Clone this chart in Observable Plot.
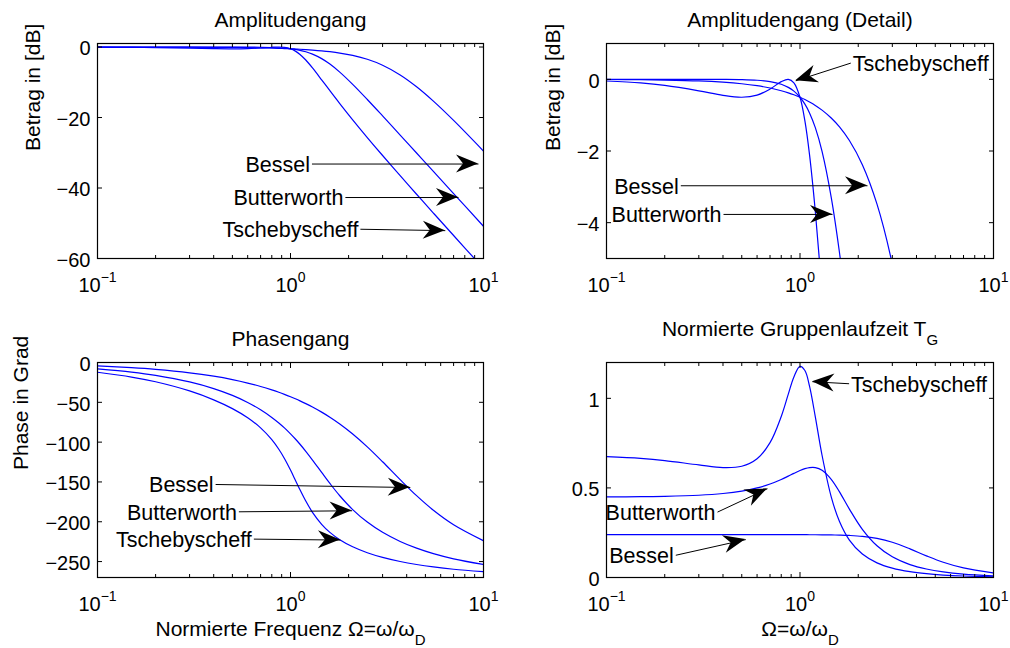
<!DOCTYPE html>
<html>
<head>
<meta charset="utf-8">
<script src="https://cdn.jsdelivr.net/npm/d3@7"></script>
<script src="https://cdn.jsdelivr.net/npm/@observablehq/plot@0.6"></script>
<style>
  html, body { margin: 0; padding: 0; background: #fff; }
  #fig { position: relative; width: 1010px; height: 648px; overflow: hidden; background: #fff; }
  #fig svg { position: absolute; left: 0; top: 0; }
</style>
</head>
<body>
<div id="fig"></div>
<script>
// ---------- data ----------
const omega = [0.1, 0.15, 0.2, 0.3, 0.4, 0.5, 0.6, 0.7, 0.8, 0.87, 0.93, 1, 1.06, 1.12, 1.2, 1.3, 1.45, 1.6, 1.8, 2.1, 2.5, 3, 3.7, 4.5, 5.5, 7, 10];

const filterNames = ["Bessel", "Butterworth", "Tschebyscheff"];

const besselDb = [-0.005, -0.011, -0.020, -0.044, -0.079, -0.123, -0.178, -0.242, -0.318, -0.376, -0.431, -0.500, -0.563, -0.631, -0.727, -0.859, -1.079, -1.327, -1.707, -2.381, -3.483, -5.161, -7.906, -11.261, -15.340, -20.811, -29.509];
const butterDb = [0, 0, 0, -0.0004, -0.002, -0.008, -0.025, -0.062, -0.137, -0.224, -0.330, -0.500, -0.693, -0.937, -1.349, -2.011, -3.292, -4.839, -7.118, -10.594, -14.884, -19.540, -24.970, -30.061, -35.287, -41.571, -50.864];
const chebDb = [-0.046, -0.100, -0.168, -0.320, -0.448, -0.500, -0.441, -0.272, -0.065, -0.000, -0.096, -0.500, -1.160, -2.103, -3.689, -5.928, -9.299, -12.399, -16.044, -20.657, -25.683, -30.781, -36.509, -41.771, -47.109, -53.478, -62.840];

const besselPhase = [-4.30, -6.45, -8.60, -12.91, -17.21, -21.51, -25.81, -30.11, -34.41, -37.42, -40.00, -43.01, -45.59, -48.17, -51.61, -55.90, -62.32, -68.72, -77.21, -89.76, -105.91, -124.63, -147.12, -167.24, -185.54, -203.75, -223.86];
const butterPhase = [-8.08, -12.13, -16.20, -24.40, -32.75, -41.30, -50.13, -59.32, -68.94, -75.95, -82.14, -89.57, -96.08, -102.67, -111.52, -122.46, -138.00, -151.88, -167.32, -184.69, -200.43, -213.29, -224.78, -233.18, -240.06, -246.59, -253.67];
const chebPhase = [-12.24, -18.26, -24.20, -35.72, -46.87, -57.93, -69.42, -82.08, -96.86, -108.97, -120.56, -135.12, -147.79, -159.84, -174.02, -188.18, -203.22, -213.35, -222.55, -231.46, -238.88, -244.75, -249.92, -253.68, -256.75, -259.65, -262.79];

const besselDelay = [0.2390, 0.2390, 0.2390, 0.2390, 0.2390, 0.2390, 0.2390, 0.2390, 0.2389, 0.2389, 0.2389, 0.2388, 0.2388, 0.2387, 0.2385, 0.2382, 0.2376, 0.2366, 0.2346, 0.2296, 0.2182, 0.1967, 0.1599, 0.1208, 0.0850, 0.0533, 0.0260];
const butterDelay = [0.4495, 0.4509, 0.4530, 0.4592, 0.4688, 0.4821, 0.4998, 0.5218, 0.5472, 0.5658, 0.5812, 0.5970, 0.6074, 0.6136, 0.6136, 0.5987, 0.5481, 0.4778, 0.3818, 0.2690, 0.1771, 0.1154, 0.0721, 0.0473, 0.0310, 0.0189, 0.0091];
const chebDelay = [0.6741, 0.6645, 0.6526, 0.6283, 0.6136, 0.6208, 0.6626, 0.7527, 0.8989, 1.0232, 1.1197, 1.1783, 1.1554, 1.0679, 0.8966, 0.6823, 0.4504, 0.3125, 0.2090, 0.1308, 0.0817, 0.0522, 0.0323, 0.0211, 0.0138, 0.0084, 0.0040];

// tick values
const xMajor = [0.1, 1, 10];
const xMinor = [0.2, 0.3, 0.4, 0.5, 0.6, 0.7, 0.8, 0.9, 2, 3, 4, 5, 6, 7, 8, 9];
const ampTicks = [0, -20, -40, -60];
const detailTicks = [0, -2, -4];
const phaseTicks = [0, -50, -100, -150, -200, -250];
const delayTicks = [0, 0.5, 1];

// annotation arrows (data coordinates; order = filterNames)
const ampTailX = [1.292, 1.925, 2.302], ampTailY = [-33.2, -42.7, -51.7];
const ampTipX  = [9.42, 7.42, 6.34],    ampTipY  = [-33.2, -42.7, -52.1];
const detTailX = [0.2421, 0.4024, 1.830], detTailY = [-2.97, -3.77, 0.453];
const detTipX  = [2.233, 1.4725, 0.9512], detTipY  = [-2.97, -3.77, -0.041];
const phTailX  = [0.4093, 0.5401, 0.6457], phTailY = [-153.2, -187.5, -221.8];
const phTipX   = [4.176, 2.085, 1.814],    phTipY  = [-157.0, -186.2, -223.0];
const dlTailX  = [0.2281, 0.3748, 1.7937], dlTailY = [0.1241, 0.3651, 1.0814];
const dlTipX   = [0.5246, 0.6792, 1.1603], dlTipY  = [0.2115, 0.4954, 1.0926];

// ---------- drawing ----------
const W = 1010, H = 648;
const FONT = "'Liberation Sans', Arial, Helvetica, sans-serif";
const BLUE = "#0000ff";
const TICK_FS = 20, LABEL_FS = 21, ANN_FS = 21.5;

function annotationMarks(tailX, tailY, tipX, tipY) {
  const idx = tailX.map((_, i) => i);
  const toRight = idx.filter(i => tipX[i] > tailX[i]);
  const toLeft = idx.filter(i => tipX[i] <= tailX[i]);
  const common = {x: i => tailX[i], y: i => tailY[i], text: i => filterNames[i],
                  fontSize: ANN_FS, lineAnchor: "middle", fill: "black", dy: 1};
  const heads = (index, scales) => {
    const g = d3.create("svg:g");
    for (const i of idx) {
      const x0 = scales.x(tailX[i]), y0 = scales.y(tailY[i]);
      const x1 = scales.x(tipX[i]), y1 = scales.y(tipY[i]);
      const len = Math.hypot(x1 - x0, y1 - y0);
      const ux = (x1 - x0) / len, uy = (y1 - y0) / len, nx = -uy, ny = ux;
      const L = 22, Wd = 9, N = 15;
      g.append("path")
        .attr("d", `M${x1},${y1}L${x1 - ux * L + nx * Wd},${y1 - uy * L + ny * Wd}L${x1 - ux * N},${y1 - uy * N}L${x1 - ux * L - nx * Wd},${y1 - uy * L - ny * Wd}Z`)
        .attr("fill", "black");
    }
    return g.node();
  };
  return [
    Plot.link(idx, {x1: i => tailX[i], y1: i => tailY[i], x2: i => tipX[i], y2: i => tipY[i], stroke: "black", strokeWidth: 1}),
    heads,
    Plot.text(toRight, {...common, textAnchor: "end", dx: -2}),
    Plot.text(toLeft, {...common, textAnchor: "start", dx: 2})
  ];
}

function panel(cfg) {
  const [l, r, t, b] = cfg.box;
  const marks = [];
  cfg.curves.forEach(ys => marks.push(Plot.line(omega, {x: omega, y: ys, stroke: BLUE, strokeWidth: 1.2, curve: "catmull-rom", clip: true})));
  // ticks (inside, mirrored)
  marks.push(Plot.axisX(xMinor, {anchor: "bottom", tickSize: -3, fill: "none"}));
  marks.push(Plot.axisX(xMinor, {anchor: "top", tickSize: -3, fill: "none"}));
  marks.push(Plot.axisX(xMajor, {anchor: "bottom", tickSize: -5, fill: "none"}));
  marks.push(Plot.axisX(xMajor, {anchor: "top", tickSize: -5, fill: "none"}));
  marks.push(Plot.axisY(cfg.yTicks, {anchor: "left", tickSize: -5, fill: "none"}));
  marks.push(Plot.axisY(cfg.yTicks, {anchor: "right", tickSize: -5, fill: "none"}));
  // tick labels
  marks.push(Plot.axisX(xMajor, {anchor: "bottom", tickSize: 0, tickPadding: 19, stroke: "none", fontSize: TICK_FS, label: null,
    tickFormat: d => `10^${Math.round(Math.log10(d))}`}));
  marks.push(Plot.axisY(cfg.yTicks, {anchor: "left", tickSize: 0, tickPadding: 7, stroke: "none", fontSize: TICK_FS, label: null, dy: 2,
    tickFormat: d => (d < 0 ? "\u2212" : "") + String(Math.abs(d))}));
  marks.push(Plot.frame({stroke: "black", strokeWidth: 1.2}));
  // texts
  marks.push(Plot.text([cfg.title], {text: d => d, frameAnchor: "top", lineAnchor: "bottom", dy: cfg.titleDy, fontSize: LABEL_FS, fill: "black"}));
  if (cfg.yLabel) marks.push(Plot.text([cfg.yLabel], {text: d => d, frameAnchor: "left", rotate: -90, lineAnchor: "middle", dx: cfg.yLabelDx, fontSize: LABEL_FS, fill: "black"}));
  if (cfg.xLabel) marks.push(Plot.text([cfg.xLabel], {text: d => d, frameAnchor: "bottom", lineAnchor: "bottom", dy: 58, fontSize: LABEL_FS, fill: "black"}));
  marks.push(...annotationMarks(...cfg.ann));
  return Plot.plot({
    width: W, height: H,
    marginLeft: l, marginRight: W - r, marginTop: t, marginBottom: H - b,
    x: {type: "log", domain: [0.1, 10]},
    y: {domain: cfg.yDomain},
    style: {background: "none", fontFamily: FONT, color: "black", overflow: "visible"},
    marks
  });
}

function scripts(svg) {
  d3.select(svg).selectAll("text").each(function () {
    if (this.querySelector("tspan")) return;
    const m = this.textContent.match(/^(.*?)([\^_])(.+)$/);
    if (!m) return;
    const sel = d3.select(this);
    sel.text(null);
    sel.append("tspan").text(m[1]);
    const sup = m[2] === "^";
    sel.append("tspan").attr("dy", sup ? -10 : 9).attr("font-size", sup ? 14 : 15).text(m[3].replace("-", "\u2212"));
  });
}

const fig = document.getElementById("fig");
const panels = [
  {box: [97, 483, 43, 258], yDomain: [-60, 1], yTicks: ampTicks, curves: [besselDb, butterDb, chebDb],
   title: "Amplitudengang", titleDy: -17, yLabel: "Betrag in [dB]", yLabelDx: -64,
   ann: [ampTailX, ampTailY, ampTipX, ampTipY]},
  {box: [606, 993, 43, 258], yDomain: [-5, 1], yTicks: detailTicks, curves: [besselDb, butterDb, chebDb],
   title: "Amplitudengang (Detail)", titleDy: -17, yLabel: "Betrag in [dB]", yLabelDx: -53,
   ann: [detTailX, detTailY, detTipX, detTipY]},
  {box: [97, 483, 362, 577], yDomain: [-270, 0], yTicks: phaseTicks, curves: [besselPhase, butterPhase, chebPhase],
   title: "Phasengang", titleDy: -17, yLabel: "Phase in Grad", yLabelDx: -76,
   xLabel: "Normierte Frequenz \u03a9=\u03c9/\u03c9_D",
   ann: [phTailX, phTailY, phTipX, phTipY]},
  {box: [606, 993, 362, 577], yDomain: [0, 1.2], yTicks: delayTicks, curves: [besselDelay, butterDelay, chebDelay],
   title: "Normierte Gruppenlaufzeit T_G", titleDy: -27,
   xLabel: "\u03a9=\u03c9/\u03c9_D",
   ann: [dlTailX, dlTailY, dlTipX, dlTipY]}
];
for (const p of panels) {
  const svg = panel(p);
  fig.appendChild(svg);
  scripts(svg);
}
</script>
</body>
</html>
